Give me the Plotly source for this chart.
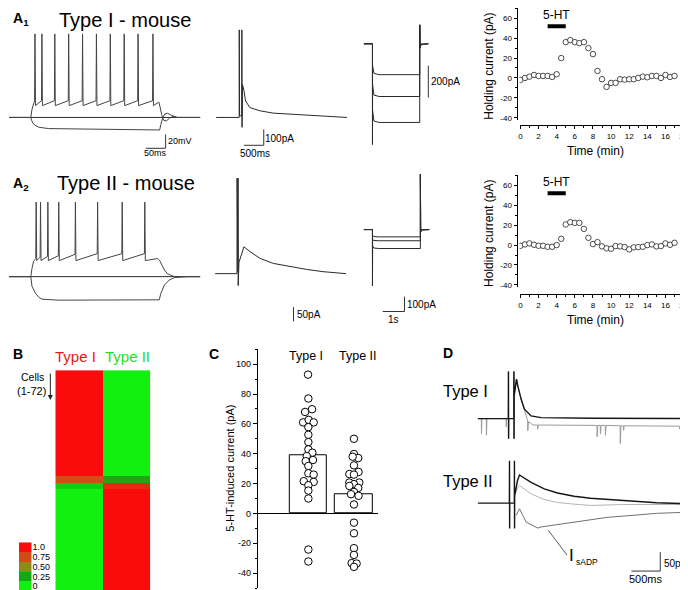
import plotly.graph_objects as go

W, H = 688, 590
FONT = "Liberation Sans, Arial, Helvetica, sans-serif"

# ======================= DATA =======================
# ---- A1 current clamp (ms, mV)
a1cc_spike_times = [65, 82.5, 115, 150, 185, 220, 255, 290, 325, 362.5]
a1cc_spike_peak = 50
a1cc_pre = -46
a1cc_trough = -53
a1cc_onset_t = [0, 55, 58, 62]
a1cc_onset_v = [-70, -70, -58, -50]
a1cc_tail_t = [378, 381, 385, 390, 397, 405, 415, 425, 482]
a1cc_tail_v = [-48, -55, -66, -74, -75, -71, -68, -70, -70]
a1cc_hyp_t = [0, 55, 57, 60, 65, 75, 100, 200, 380, 383, 388, 393, 400, 410, 420, 482]
a1cc_hyp_v = [-70, -70, -74, -78, -81, -84, -86, -87, -88, -80, -70, -65, -64, -67, -70, -70]
a1cc_rest_t = [0, 482]
a1cc_rest_v = [-70, -70]

# ---- A1 voltage clamp tail current (ms, pA)
a1vc_t = [0, 580, 582, 590, 645, 648, 652, 665, 700, 740, 850, 1100, 1442, 1850, 2275, 2692, 3300]
a1vc_i = [0, 0, 550, 10, 10, 550, -62, 206, 170, 104, 62, 42, 27, 21, 11, 6, 0]

# ---- A1 hyperpolarising steps (ms, pA)
a1st_t = [0, 394, 395, 398, 460, 700, 2560, 2561, 2575, 2620, 2955]
a1st_start = [-137, -256, -419]
a1st_mid = [-185, -322, -485]
a1st_level = [-194, -331, -494]
a1st_peak_on = -631
a1st_peak_off = 119

# ---- A2 current clamp (ms, mV)
a2cc_spike_times = [68, 79, 97.5, 125, 167, 223, 285, 342]
a2cc_pre = [-44, -42, -41, -40, -38, -37, -37, -37]
a2cc_spike_peak = 37
a2cc_trough = -47
a2cc_onset_t = [0, 55, 58, 62, 66]
a2cc_onset_v = [-70, -70, -58, -48, -45]
a2cc_tail_t = [375, 380, 383, 392, 400, 417, 482]
a2cc_tail_v = [-44, -47, -51, -60.5, -66, -70, -70]
a2cc_hyp_t = [0, 55, 58, 67, 75, 83, 125, 379, 383, 392, 404, 417, 450, 482]
a2cc_hyp_v = [-70, -70, -84, -94, -99.5, -102.4, -103.8, -103.3, -94, -82, -75, -71.4, -70, -70]
a2cc_rest_t = [0, 482]
a2cc_rest_v = [-70, -70]

# ---- A2 voltage clamp tail current (ms, pA)
a2vc_t = [0, 550, 552, 560, 575, 577, 580, 600, 700, 725, 883, 1133, 1467, 1883, 2300, 2717, 3300]
a2vc_i = [0, 0, 336, 5, 5, 336, -42, 40, 90, 94.5, 77, 53.6, 36, 24.5, 15, 7, 0]

# ---- A2 hyperpolarising steps (ms, pA)
a2st_t = [0, 394, 395, 398, 460, 700, 2590, 2591, 2605, 2650, 3000]
a2st_start = [-40, -65, -110]
a2st_mid = [-47, -73, -124]
a2st_level = [-49, -75, -127]
a2st_peak_on = -375
a2st_peak_off = 371

# ---- A1/A2 holding current time courses
hold_time = [0, 0.5, 1, 1.5, 2, 2.5, 3, 3.5, 4, 4.5, 5, 5.5, 6, 6.5, 7, 7.5, 8, 8.5,
             9, 9.5, 10, 10.5, 11, 11.5, 12, 12.5, 13, 13.5, 14, 14.5, 15, 15.5, 16, 16.5, 17]
a1_hold = [-2, 0, 1.3, 3, 2, 2, 2, 1, 3.7, 20, 36, 38, 36, 35, 36, 30, 24, 7, -1.3, -9,
           -5, -5, -1.3, -1.7, -1.3, -1.3, 0, 1.3, 0.7, 2, 2, 0, 3, 1, 2]
a2_hold = [-0.7, 0.7, 1.7, 0.3, -0.7, -0.7, -1.7, -1.7, 0, 6.3, 20.7, 23, 22.3, 22.3, 16.3,
           7.3, 1, 3, -1.3, -3.3, -3.7, -1, -1.3, -2, -4.3, -2.3, -2, -1.7, 0, 0.7, -1.3, -1,
           1.7, 0.3, 2.3]
ht_window = [3, 5]
time_tickvals = [0, 2, 4, 6, 8, 10, 12, 14, 16, 18]
time_ticktext = ["0", "2", "4", "6", "8", "10", "12", "14", "16", "20"]
hold_tickvals = [-40, -20, 0, 20, 40, 60]
hold_ticktext = ["-40", "-20", "0", "20", "40", "60"]

# ---- B heat map (72 cells, scores)
hm_type1 = [1.0] * 34 + [0.75] * 2 + [0.12] * 2 + [0.0] * 34
hm_type2 = [0.0] * 34 + [0.28] * 2 + [0.88] * 2 + [1.0] * 34
hm_legend_vals = [1.0, 0.75, 0.5, 0.25, 0.0]
hm_legend_text = ["1.0", "0.75", "0.50", "0.25", "0"]

# ---- C 5-HT induced current (pA)
c_groups = ["Type I", "Type II"]
c_means = [39, 13]
c_typeI = [93, 77, 68, 69.8, 61, 62.7, 61, 57.8, 52.7, 47.8, 42.9, 40.7, 38.4, 35, 35.8,
           31.8, 26.9, 26, 21.6, 21.1, 18.9, 15.3, 10, -24.2, -32.2]
c_typeI_jit = [-0.007, 0, -0.072, 0.08, -0.116, 0.007, 0.116, 0, 0, 0, 0, 0.087, -0.036,
               -0.058, 0.101, 0, 0, 0.116, -0.101, 0.116, 0, 0, 0, 0, 0]
c_typeII = [50, 39.8, 37.1, 38, 32.2, 27.8, 26.4, 26, 20.7, 20.7, 19.6, 18.4, 17.1, 14.4,
            12.9, 11.8, 6, -6.2, -13.3, -23.3, -27.8, -33.3, -33.6, -35.8]
c_typeII_jit = [0, 0, 0.094, -0.029, 0, 0.101, -0.101, 0, 0.116, -0.101, 0, -0.101, 0.094,
                0, -0.065, 0.101, 0, 0, 0, 0, 0, -0.051, 0.058, 0]
c_tickvals = [-40, -20, 0, 20, 40, 60, 80, 100]
c_ticktext = ["-40", "-20", "0", "20", "40", "60", "80", "100"]

# ---- D sADP recordings (ms, pA)
d1_black_t = [0, 530, 532, 534, 536, 625, 627, 629, 631, 672, 695, 753, 810, 925, 1098, 2000, 3707]
d1_black_i = [0, 0, 125, -53, 0, 0, 125, -53, 60, 104.5, 86, 51, 25, 7, 2.6, 1, 0]
d1_gray_t = [0, 60, 63, 70, 146, 149, 158, 490, 494, 500, 530, 532, 534, 536, 625, 627, 629,
             631, 672, 695, 753, 810, 865, 868, 880, 960, 1037, 1040, 1052, 2071, 2074, 2086,
             2129, 2132, 2144, 2215, 2218, 2230, 2474, 2477, 2489, 2531, 2534, 2546, 3509,
             3512, 3524, 3707]
d1_gray_i = [0, 0, -40, 0, 0, -44, 0, 0, -22, 0, 0, 125, -53, 0, 0, 125, -53, 60, 104.5, 86,
             51, 22, -5, -32, -8, -17, -17, -28, -17, -18, -48, -18, -18, -40, -18, -18, -44,
             -18, -19, -66, -19, -19, -31, -19, -20, -28, -20, -20]
d2_black_t = [0, 548, 550, 552, 554, 634, 636, 638, 640, 690, 724, 925, 1155, 1385, 1672,
              1960, 2247, 2534, 2822, 3109, 3684]
d2_black_i = [0, 0, 112, -67, 0, 0, 112, -67, 20, 60, 74.6, 55, 38, 27, 18.4, 13, 9.7, 6.3,
              2.6, 1, -1.6]
d2_light_t = [640, 690, 724, 925, 1155, 1385, 1672, 1960, 2534, 3684]
d2_light_i = [20, 40, 46.5, 24.6, 9.7, 1.8, -2.6, -6, -3.5, -3.5]
d2_dark_t = [667, 724, 781, 839, 925, 1040, 1098, 1213, 1385, 1672, 1960, 2247, 2534, 2822,
             3109, 3397, 3684]
d2_dark_i = [-32.4, -14.8, -32.4, -50, -56.9, -65.7, -63, -60.4, -56.9, -50, -42.9, -37.6,
             -34.1, -29.7, -27, -25.3, -23.6]
d2_pointer_t = [1224, 1552]
d2_pointer_i = [-71.8, -137.5]

# ======================= FIGURE =======================
fig = go.Figure()
layout = {}
annotations = []


def fx(p):
    return p / W


def fy(p):
    return 1 - p / H


def hidden_axes(n, box, x0val, xper, yref_val, yref_px, yper):
    x0, x1, y0, y1 = box
    s = '' if n == 1 else str(n)
    layout['xaxis' + s] = dict(domain=[fx(x0), fx(x1)], range=[x0val, x0val + (x1 - x0) * xper],
                               visible=False, anchor='y' + s, fixedrange=True)
    layout['yaxis' + s] = dict(domain=[fy(y1), fy(y0)],
                               range=[yref_val - (y1 - yref_px) * yper, yref_val + (yref_px - y0) * yper],
                               visible=False, anchor='x' + s, fixedrange=True)
    return ('x' + s, 'y' + s)


def add_line(ax, t, v, color='#2a2a2a', width=1.0):
    fig.add_trace(go.Scatter(x=t, y=v, mode='lines', line=dict(color=color, width=width),
                             xaxis=ax[0], yaxis=ax[1], hoverinfo='skip'))


def note(text, x, y, size, xanchor='left', yanchor='middle', color='black',
         xref='paper', yref='paper', angle=0):
    if xref == 'paper':
        x = fx(x)
    if yref == 'paper':
        y = fy(y)
    annotations.append(dict(text=text, x=x, y=y, xref=xref, yref=yref, xanchor=xanchor,
                            yanchor=yanchor, showarrow=False, textangle=angle, borderpad=0,
                            font=dict(size=size, color=color, family=FONT)))


def scale_bar(ax, ct, cv, dt, dv, color='#333333'):
    if dt:
        xs, ys = [ct - dt, ct, ct], [cv, cv, cv + dv]
    else:
        xs, ys = [ct, ct], [cv, cv + dv]
    add_line(ax, xs, ys, color=color, width=1)


def spike_train(onset_t, onset_v, times, pres, peak, trough, tail_t, tail_v):
    t, v = list(onset_t), list(onset_v)
    for ts, pre in zip(times, pres):
        t += [ts - 0.5, ts + 0.5, ts + 1.8]
        v += [pre, peak, trough]
    return t + tail_t, v + tail_v


# ---------- A1 traces ----------
ax1 = hidden_axes(1, (0, 195, 15, 150), 0, 2.5, -70, 110, 1 / 0.7)
t, v = spike_train(a1cc_onset_t, a1cc_onset_v, a1cc_spike_times, [a1cc_pre] * len(a1cc_spike_times),
                   a1cc_spike_peak, a1cc_trough, a1cc_tail_t, a1cc_tail_v)
add_line(ax1, a1cc_rest_t, a1cc_rest_v)
add_line(ax1, a1cc_hyp_t, a1cc_hyp_v, color='#444444')
add_line(ax1, t, v, color='#444444')
scale_bar(ax1, 395, -114.3, 50, 20)
note("20mV", 398, -104.3, 9, xref=ax1[0], yref=ax1[1])
note("50ms", 370, -121.5, 9, xanchor='center', xref=ax1[0], yref=ax1[1])

ax2 = hidden_axes(2, (205, 345, 15, 150), -100, 25, 0, 110, 6.25)
add_line(ax2, a1vc_t, a1vc_i)
scale_bar(ax2, 1200, -175, 500, 100)
note("100pA", 1215, -131, 10, xref=ax2[0], yref=ax2[1])
note("500ms", 975, -225, 10, xanchor='center', xref=ax2[0], yref=ax2[1])

ax3 = hidden_axes(3, (350, 440, 10, 150), -8 * 45.45, 45.45, 0, 36, 6.25)
for s0, mid, lev in zip(a1st_start, a1st_mid, a1st_level):
    add_line(ax3, a1st_t, [0, 0, a1st_peak_on, s0, mid, lev, lev, a1st_peak_off, -25, -3, 0])
scale_bar(ax3, 2954, -337.5, 0, 200)
note("200pA", 3030, -237.5, 10, xref=ax3[0], yref=ax3[1])

# ---------- A2 traces ----------
ax4 = hidden_axes(4, (0, 195, 185, 305), 0, 2.5, -70, 270, 1 / 0.7)
t, v = spike_train(a2cc_onset_t, a2cc_onset_v, a2cc_spike_times, a2cc_pre, a2cc_spike_peak,
                   a2cc_trough, a2cc_tail_t, a2cc_tail_v)
add_line(ax4, a2cc_rest_t, a2cc_rest_v)
add_line(ax4, a2cc_hyp_t, a2cc_hyp_v, color='#444444')
add_line(ax4, t, v, color='#444444')

ax5 = hidden_axes(5, (205, 345, 160, 320), -75, 25, 0, 267, 3.5)
add_line(ax5, a2vc_t, a2vc_i)
scale_bar(ax5, 1975, -168, 0, 50)
note("50pA", 2030, -143.5, 10, xref=ax5[0], yref=ax5[1])

ax6 = hidden_axes(6, (350, 440, 160, 320), -8 * 45.45, 45.45, 0, 222.7, 100 / 15)
for s0, mid, lev in zip(a2st_start, a2st_mid, a2st_level):
    add_line(ax6, a2st_t, [0, 0, a2st_peak_on, s0, mid, lev, lev, a2st_peak_off, -15, -2, 0])
scale_bar(ax6, 1864, -549, 1000, 100)
note("100pA", 1910, -502, 10, xref=ax6[0], yref=ax6[1])
note("1s", 1364, -602, 10, xanchor='center', xref=ax6[0], yref=ax6[1])

# ---------- D traces ----------
ax7 = hidden_axes(7, (465, 688, 365, 445), -8 * 17.24, 17.24, 0, 412.7, 50 / 19)
add_line(ax7, d1_gray_t, d1_gray_i, color='#9a9a9a', width=1)
add_line(ax7, d1_black_t, d1_black_i, color='#151515', width=1.4)

ax8 = hidden_axes(8, (465, 688, 440, 585), -8 * 17.24, 17.24, 0, 497.7, 50 / 19)
add_line(ax8, d2_dark_t, d2_dark_i, color='#707070', width=1)
add_line(ax8, d2_light_t, d2_light_i, color='#b4b4b4', width=1)
add_line(ax8, d2_black_t, d2_black_i, color='#151515', width=1.4)
add_line(ax8, d2_pointer_t, d2_pointer_i, color='#333333', width=0.8)
scale_bar(ax8, 3172, -179.6, 500, 50)
note("50pA", 3215, -160, 10, xref=ax8[0], yref=ax8[1])
note("500ms", 2922, -200, 11, xanchor='center', xref=ax8[0], yref=ax8[1])

# ---------- A holding current plots ----------
def hold_axes(n, x_axis_py, zero_py, series):
    s = str(n)
    layout['xaxis' + s] = dict(domain=[fx(515), fx(681)], range=[-0.1, 18.05], anchor='free',
                               position=fy(x_axis_py), showline=True, linecolor='black',
                               linewidth=1, ticks='outside', ticklen=3, tickcolor='black',
                               tickvals=time_tickvals, ticktext=time_ticktext,
                               tickfont=dict(size=8, family=FONT), ticklabeloverflow='allow',
                               minor=dict(ticks='outside', ticklen=2, dtick=1, tick0=0,
                                          tickcolor='black'),
                               showgrid=False, zeroline=False, fixedrange=True)
    layout['yaxis' + s] = dict(domain=[fy(zero_py + 42), fy(zero_py - 70)], range=[-42, 70],
                               anchor='free', position=fx(512), showline=True,
                               linecolor='black', linewidth=1, ticks='outside', ticklen=3,
                               tickcolor='black', tickvals=hold_tickvals, ticktext=hold_ticktext,
                               tickfont=dict(size=8, family=FONT),
                               minor=dict(ticks='outside', ticklen=2, dtick=10, tick0=0,
                                          tickcolor='black'),
                               showgrid=False, zeroline=False, fixedrange=True)
    fig.add_trace(go.Scatter(x=ht_window, y=[52, 52], mode='lines',
                             line=dict(color='black', width=4), xaxis='x' + s, yaxis='y' + s,
                             hoverinfo='skip'))
    fig.add_trace(go.Scatter(x=hold_time, y=series, mode='markers',
                             marker=dict(symbol='circle', size=5.5, color='white',
                                         line=dict(color='#222222', width=0.8)),
                             xaxis='x' + s, yaxis='y' + s, hoverinfo='skip'))
    note("5-HT", 4, 63, 12, xanchor='center', xref='x' + s, yref='y' + s)
    note("Holding current (pA)", 484, zero_py - 12, 12, xanchor='center', angle=-90)
    note("Time (min)", 592, x_axis_py + 26, 12, xanchor='center')


hold_axes(9, 118, 70.3, a1_hold)
hold_axes(10, 287.7, 238.3, a2_hold)

# ---------- B heat map ----------
cs = [[0.0, '#12f012'], [0.25, '#14a814'], [0.5, '#8c8c16'], [0.75, '#d24c16'], [1.0, '#fa0c0c']]
layout['xaxis12'] = dict(domain=[fx(46.7), fx(142.5)], range=[-0.5, 1.5], visible=False,
                         anchor='y12', fixedrange=True)
layout['yaxis12'] = dict(domain=[fy(590), fy(364)], range=[72.5, 0.5], visible=False,
                         anchor='x12', fixedrange=True)
fig.add_trace(go.Heatmap(z=[[a, b] for a, b in zip(hm_type1, hm_type2)], x=[0, 1],
                         y=list(range(1, len(hm_type1) + 1)), colorscale=cs, zmin=0, zmax=1,
                         showscale=False, xaxis='x12', yaxis='y12', hoverinfo='skip'))
layout['xaxis13'] = dict(domain=[fx(10), fx(22.7)], range=[-0.5, 0.5], visible=False,
                         anchor='y13', fixedrange=True)
layout['yaxis13'] = dict(domain=[fy(586), fy(537)], range=[4.5, -0.5], anchor='x13',
                         side='right', showline=False, ticks='', showgrid=False, zeroline=False,
                         tickvals=[0, 1, 2, 3, 4], ticktext=hm_legend_text,
                         tickfont=dict(size=9, family=FONT), fixedrange=True)
fig.add_trace(go.Heatmap(z=[[v] for v in hm_legend_vals], x=[0], y=[0, 1, 2, 3, 4],
                         colorscale=cs, zmin=0, zmax=1, showscale=False,
                         xaxis='x13', yaxis='y13', hoverinfo='skip'))
note("<b>B</b>", 3, 348, 14)
note("Type I", 67.5, 350, 15, xanchor='center', color='#f01414')
note("Type II", 119.7, 350, 15, xanchor='center', color='#1ee01e')
note("Cells", 36, 371, 10.5, xanchor='right')
note("(1-72)", 38.5, 385, 11, xanchor='right')
annotations.append(dict(text=' ', x=fx(41.7), y=fy(394), xref='paper', yref='paper',
                        showarrow=True, ax=0, ay=-29, arrowhead=2, arrowsize=1,
                        arrowwidth=1, arrowcolor='#222222', font=dict(size=2)))

# ---------- C ----------
layout['xaxis11'] = dict(domain=[fx(251), fx(372)], range=[-1.109, 1.522], visible=False,
                         anchor='y11', fixedrange=True)
layout['yaxis11'] = dict(domain=[fy(583), fy(343)], range=[-50, 110], anchor='x11',
                         showline=True, linecolor='black', linewidth=1, ticks='outside',
                         ticklen=4, tickcolor='black', tickvals=c_tickvals, ticktext=c_ticktext,
                         tickfont=dict(size=9, family=FONT),
                         minor=dict(ticks='outside', ticklen=2, dtick=10, tick0=0,
                                    tickcolor='black'),
                         showgrid=False, zeroline=True, zerolinecolor='black',
                         zerolinewidth=1, fixedrange=True)
fig.add_trace(go.Bar(x=[0, 1], y=c_means, width=0.826,
                     marker=dict(color='white', line=dict(color='black', width=1)),
                     xaxis='x11', yaxis='y11', hoverinfo='skip'))
fig.add_trace(go.Scatter(x=[j for j in c_typeI_jit] + [1 + j for j in c_typeII_jit],
                         y=c_typeI + c_typeII, mode='markers',
                         marker=dict(symbol='circle', size=7.5, color='white',
                                     line=dict(color='black', width=1)),
                         xaxis='x11', yaxis='y11', hoverinfo='skip', cliponaxis=False))
note("<b>C</b>", 201, 348, 14)
note(c_groups[0], 300, 350, 12.5, xanchor='center')
note(c_groups[1], 352.5, 350, 12.5, xanchor='center')
note("5-HT-induced current (pA)", 223, 463, 11, xanchor='center', angle=-90)

# ---------- text labels ----------
note("<b>A<sub>1</sub></b>", 3, 11, 14)
note("Type I - mouse", 49, 0, 20, yanchor='top')
note("<b>A<sub>2</sub></b>", 3, 177, 14)
note("Type II - mouse", 47, 176, 20)
note("<b>D</b>", 437, 347, 14)
note("Type I", 437, 385, 16.5)
note("Type II", 437, 475, 16.5)
note("I", 564, 550, 17)
note("sADP", 570.5, 557, 8.5)

layout.update(width=W, height=H, margin=dict(l=0, r=0, t=0, b=0), paper_bgcolor='white',
              plot_bgcolor='rgba(0,0,0,0)', showlegend=False, annotations=annotations,
              font=dict(family=FONT, color='black'), bargap=0)
fig.update_layout(**layout)
fig.write_html("out.html")
